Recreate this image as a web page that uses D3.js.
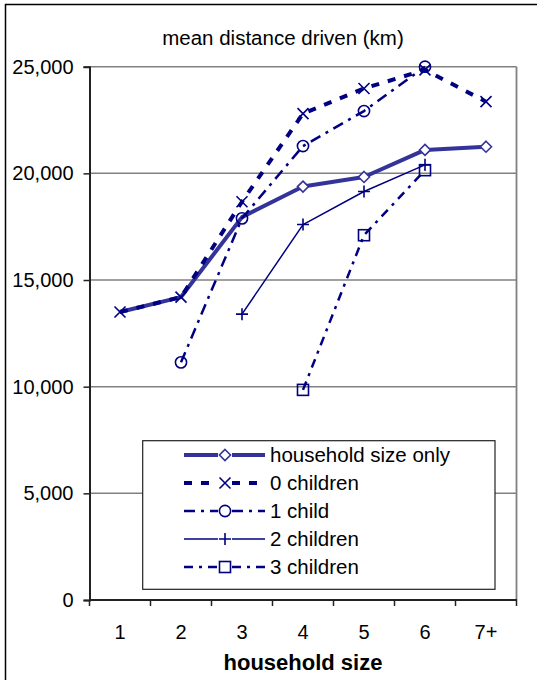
<!DOCTYPE html>
<html>
<head>
<meta charset="utf-8">
<script src="https://cdn.jsdelivr.net/npm/d3@7"></script>
<style>
  html, body { margin: 0; padding: 0; background: #fff; }
  svg { display: block; font-family: "Liberation Sans", Arial, sans-serif; }
</style>
</head>
<body>
<svg id="chart" width="547" height="680"></svg>
<script>
// Household size categories on the x axis
const categories = ["1", "2", "3", "4", "5", "6", "7+"];
// Y axis tick values
const yTicks = [0, 5000, 10000, 15000, 20000, 25000];

// Mean distance driven (km) per household size
const householdSizeOnly = [13500, 14200, 17950, 19380, 19830, 21100, 21250];
const householdMarkers  = [false, false, false, true, true, true, true];
const children0 = [13500, 14200, 18670, 22800, 23980, 24850, 23360];
const children1 = [null, 11140, 17890, 21280, 22920, 25000, null];
const children2 = [null, null, 13400, 17600, 19150, 20400, null];
const children3 = [null, null, null, 9850, 17100, 20150, null];

const seriesNames = ["household size only", "0 children", "1 child", "2 children", "3 children"];

(function () {
const svg = d3.select("#chart");
const H = 680;
const plotL = 89.5, plotR = 516.5, plotT = 66.7, plotB = 600;

const x = d3.scaleBand().domain(categories).range([plotL, plotR]);
const y = d3.scaleLinear().domain([0, 25000]).range([plotB, plotT]);
const cx = c => x(c) + x.bandwidth() / 2;

// outer frame (left and top edges)
svg.append("path")
  .attr("d", `M5.5,${H} L5.5,4.5 L537,4.5`)
  .attr("fill", "none").attr("stroke", "#000").attr("stroke-width", 1.5);

// gridlines
svg.append("g").selectAll("line")
  .data(yTicks.filter(v => v > 0))
  .join("line")
  .attr("x1", plotL).attr("x2", plotR)
  .attr("y1", d => y(d)).attr("y2", d => y(d))
  .attr("stroke", "#808080").attr("stroke-width", 1.5);

// plot frame right edge
svg.append("line")
  .attr("x1", plotR).attr("x2", plotR).attr("y1", plotT).attr("y2", plotB)
  .attr("stroke", "#808080").attr("stroke-width", 1.8);

// y axis
const yAxis = d3.axisLeft(y).tickValues(yTicks).tickSize(6).tickPadding(10)
  .tickFormat(d3.format(","));
const gy = svg.append("g").attr("transform", `translate(${plotL},0)`).call(yAxis);
gy.select(".domain").attr("stroke", "#222").attr("stroke-width", 2);
gy.selectAll(".tick line").attr("stroke", "#222").attr("stroke-width", 1.5);
gy.selectAll(".tick text").attr("font-size", 20).attr("fill", "#000")
  .attr("font-family", "Liberation Sans, Arial, sans-serif");

// x axis (ticks at category boundaries)
const gx = svg.append("g").attr("transform", `translate(0,${plotB})`);
gx.append("line").attr("x1", plotL).attr("x2", plotR + 0.5)
  .attr("stroke", "#222").attr("stroke-width", 2);
const bounds = categories.map(c => x(c)).concat([plotR]);
gx.selectAll("line.tk").data(bounds).join("line").attr("class", "tk")
  .attr("x1", d => d).attr("x2", d => d).attr("y1", 0).attr("y2", 6)
  .attr("stroke", "#222").attr("stroke-width", 1.5);
gx.selectAll("text").data(categories).join("text")
  .attr("x", d => cx(d)).attr("y", 39)
  .attr("text-anchor", "middle").attr("font-size", 20).attr("fill", "#000")
  .text(d => d);

// titles
svg.append("text").attr("x", 283).attr("y", 45).attr("text-anchor", "middle")
  .attr("font-size", 20.5).attr("fill", "#000").text("mean distance driven (km)");
svg.append("text").attr("x", 303).attr("y", 670).attr("text-anchor", "middle")
  .attr("font-size", 22).attr("font-weight", "bold").attr("fill", "#000").text("household size");

// marker shapes
function marker(g, type, px, py, color) {
  if (type === "diamond") {
    g.append("path").attr("d", `M${px},${py - 5.5} L${px + 5.5},${py} L${px},${py + 5.5} L${px - 5.5},${py} Z`)
      .attr("fill", "#fff").attr("stroke", color).attr("stroke-width", 1.6);
  } else if (type === "x") {
    g.append("path").attr("d", `M${px - 5.5},${py - 5.5} L${px + 5.5},${py + 5.5} M${px - 5.5},${py + 5.5} L${px + 5.5},${py - 5.5}`)
      .attr("fill", "none").attr("stroke", color).attr("stroke-width", 1.6);
  } else if (type === "circle") {
    g.append("circle").attr("cx", px).attr("cy", py).attr("r", 5.6)
      .attr("fill", "none").attr("stroke", color).attr("stroke-width", 1.6);
  } else if (type === "plus") {
    g.append("path").attr("d", `M${px - 6},${py} L${px + 6},${py} M${px},${py - 6} L${px},${py + 6}`)
      .attr("fill", "none").attr("stroke", color).attr("stroke-width", 1.6);
  } else if (type === "square") {
    g.append("rect").attr("x", px - 5.5).attr("y", py - 5.5).attr("width", 11).attr("height", 11)
      .attr("fill", "none").attr("stroke", color).attr("stroke-width", 1.6);
  }
}

const styles = [
  { values: householdSizeOnly, color: "#333399", width: 4,   dash: null,        marker: "diamond", show: householdMarkers },
  { values: children0,         color: "#000080", width: 4,   dash: "8,9",       marker: "x" },
  { values: children1,         color: "#000080", width: 2.5, dash: "11,6,3,6",  marker: "circle" },
  { values: children2,         color: "#000080", width: 1.5, dash: null,        marker: "plus" },
  { values: children3,         color: "#000080", width: 2.5, dash: "9,6,3,6",   marker: "square" }
];

const lineGen = d3.line()
  .defined(d => d.v !== null)
  .x(d => cx(d.c)).y(d => y(d.v));

styles.forEach(s => {
  const pts = categories.map((c, i) => ({ c, v: s.values[i], i }));
  const g = svg.append("g");
  g.append("path").datum(pts).attr("d", lineGen)
    .attr("fill", "none").attr("stroke", s.color).attr("stroke-width", s.width)
    .attr("stroke-dasharray", s.dash).attr("stroke-linejoin", "round");
  pts.filter(p => p.v !== null && (!s.show || s.show[p.i]))
    .forEach(p => marker(g, s.marker, cx(p.c), y(p.v), s.color));
});

// legend
const lg = svg.append("g");
lg.append("rect").attr("x", 142.7).attr("y", 440.7).attr("width", 352.3).attr("height", 148.6)
  .attr("fill", "#fff").attr("stroke", "#222").attr("stroke-width", 1.2);
styles.forEach((s, i) => {
  const ry = 455 + i * 28;
  [[184, 218], [232, 265]].forEach(([a, b]) => {
    lg.append("line").attr("x1", a).attr("x2", b).attr("y1", ry).attr("y2", ry)
      .attr("stroke", s.color).attr("stroke-width", s.width).attr("stroke-dasharray", s.dash);
  });
  marker(lg, s.marker, 225, ry, s.color);
  lg.append("text").attr("x", 270).attr("y", ry).attr("dy", "0.35em")
    .attr("font-size", 20.5).attr("fill", "#000").text(seriesNames[i]);
});
})();
</script>
</body>
</html>
